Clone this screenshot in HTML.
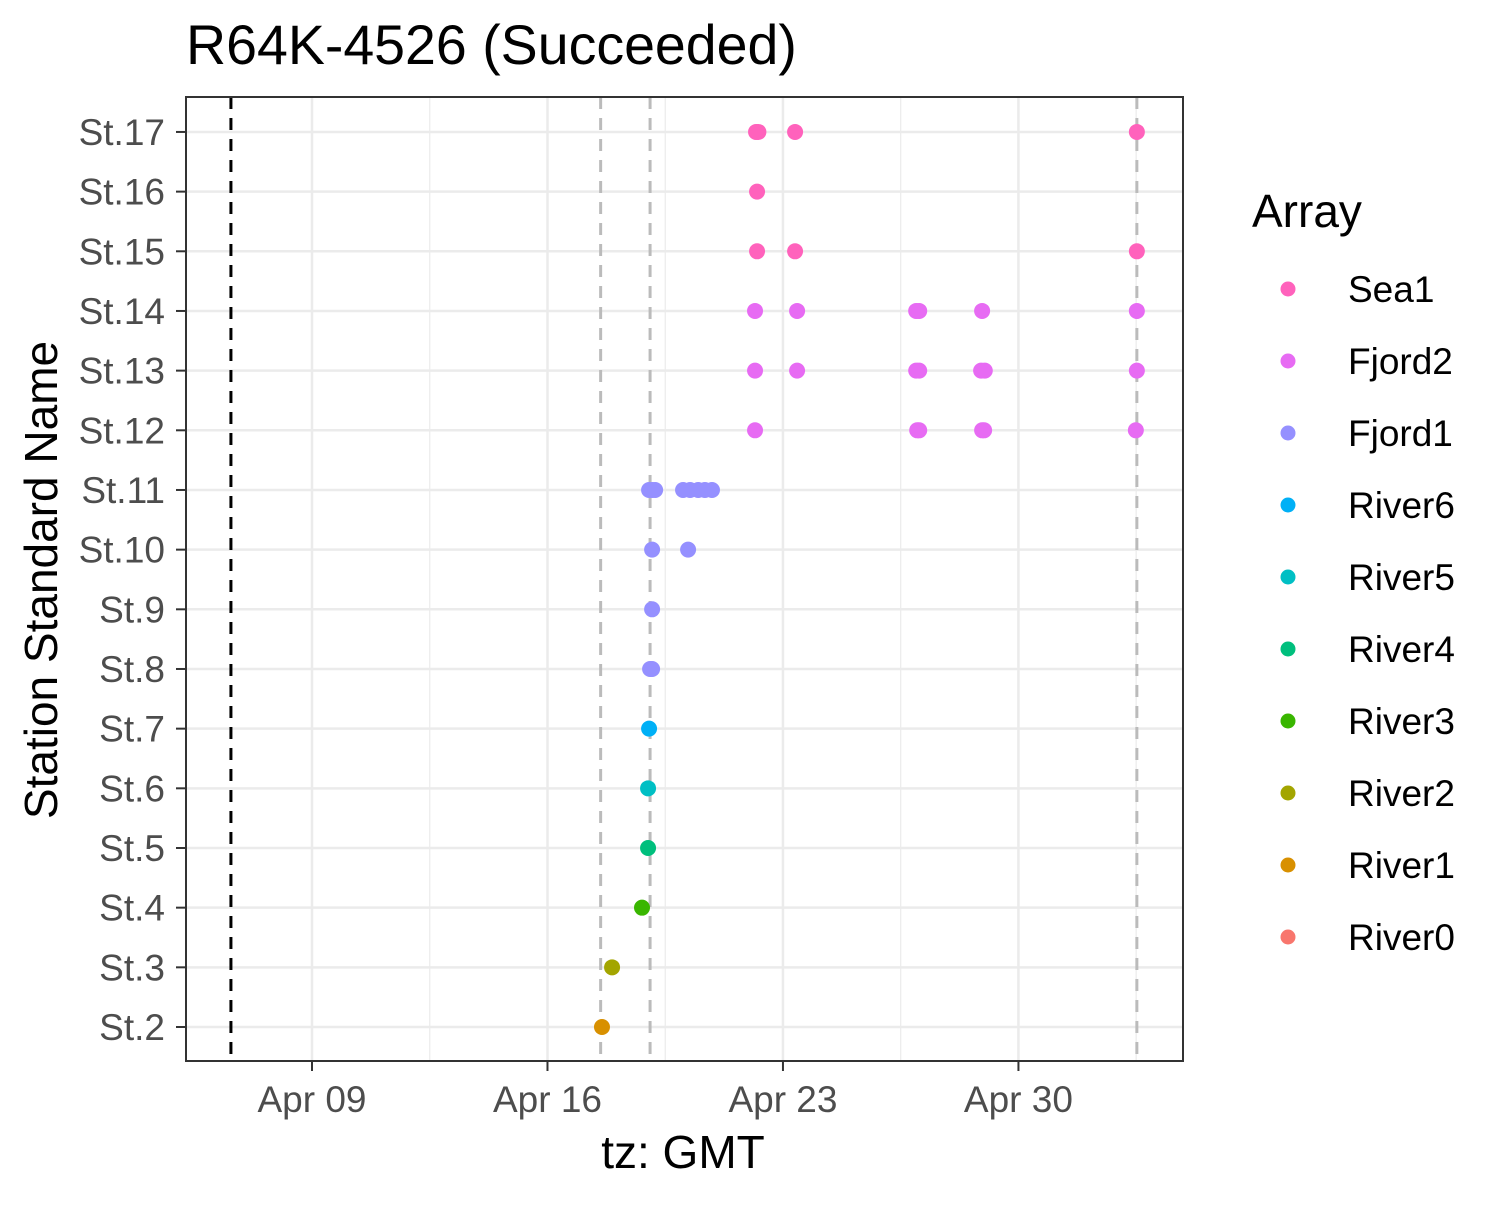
<!DOCTYPE html>
<html><head><meta charset="utf-8"><style>
body{margin:0;background:#fff;font-family:"Liberation Sans",Arial,sans-serif;}
</style></head><body>
<svg id="chart" width="1500" height="1200" xmlns="http://www.w3.org/2000/svg" font-family="Liberation Sans, Arial, sans-serif">
<rect width="1500" height="1200" fill="#fff"/>
<text x="186" y="64" font-size="55.5" fill="#000">R64K-4526 (Succeeded)</text>
<g id="grid"></g>
<g id="vlines"></g>
<g id="points"></g>
<rect x="186" y="97" width="997" height="964" fill="none" stroke="#333" stroke-width="2"/>
<g id="axes"></g>
<text x="683" y="1168" font-size="46" text-anchor="middle" fill="#000">tz: GMT</text>
<text transform="translate(57,580) rotate(-90)" font-size="46" text-anchor="middle" fill="#000">Station Standard Name</text>
<g id="legend"></g>
</svg>
<script>
const stations=["St.2","St.3","St.4","St.5","St.6","St.7","St.8","St.9","St.10","St.11","St.12","St.13","St.14","St.15","St.16","St.17"];
const arrays=["Sea1","Fjord2","Fjord1","River6","River5","River4","River3","River2","River1","River0"];
const colors=["#FF62BC","#E76BF3","#9590FF","#00B0F6","#00BFC4","#00BF7D","#39B600","#A3A500","#D89000","#F8766D"];
const stationArray=["River1","River2","River3","River4","River5","River6","Fjord1","Fjord1","Fjord1","Fjord1","Fjord2","Fjord2","Fjord2","Sea1","Sea1","Sea1"];
// detections: day offset relative to Apr 09 00:00
const detStation=["St.17","St.17","St.17","St.17","St.16","St.15","St.15","St.15",
"St.14","St.14","St.14","St.14","St.14","St.14",
"St.13","St.13","St.13","St.13","St.13","St.13","St.13",
"St.12","St.12","St.12","St.12","St.12","St.12",
"St.11","St.11","St.11","St.11","St.11","St.11","St.11","St.11",
"St.10","St.10","St.9","St.8","St.8","St.7","St.6","St.5","St.4","St.3","St.2"];
const detDay=[13.2,13.27,14.36,24.52,13.23,13.23,14.36,24.52,
13.17,14.42,17.96,18.05,19.92,24.52,
13.17,14.42,17.96,18.05,19.89,20.0,24.52,
13.17,17.99,18.05,19.92,19.98,24.49,
10.02,10.11,10.2,11.03,11.24,11.48,11.68,11.89,
10.11,11.18,10.11,10.05,10.11,10.02,9.99,9.99,9.81,8.92,8.62];
const xTicks=[0,7,14,21];
const xTickLabels=["Apr 09","Apr 16","Apr 23","Apr 30"];
const vlineDays=[-2.41,8.58,10.05,24.52];
const vlineColors=["#000","#bbb","#bbb","#bbb"];
const X0=312,PXD=33.64;
const x=d=>X0+d*PXD;
const y=s=>1027-stations.indexOf(s)*59.67;
const NS="http://www.w3.org/2000/svg";
function mk(t,a,p){const e=document.createElementNS(NS,t);for(const k in a)e.setAttribute(k,a[k]);p.appendChild(e);return e;}
const grid=document.getElementById('grid');
xTicks.forEach((d,i)=>{
 const g=mk('line',{x1:x(d),x2:x(d),y1:97,y2:1061,stroke:'#ebebeb','stroke-width':2.5},grid);
 
 const m=mk('line',{x1:x(d+3.5),x2:x(d+3.5),y1:97,y2:1061,stroke:'#ebebeb','stroke-width':1.2},grid);
 
});
stations.forEach(s=>{
 const g=mk('line',{x1:186,x2:1183,y1:y(s),y2:y(s),stroke:'#ebebeb','stroke-width':2.5},grid);
 
});
const vl=document.getElementById('vlines');
vlineDays.forEach((d,i)=>{
 const l=mk('line',{x1:x(d),x2:x(d),y1:97,y2:1061,stroke:vlineColors[i],'stroke-width':3,'stroke-dasharray':'12,9'},vl);
 
});
const pts=document.getElementById('points');
detDay.forEach((d,i)=>{
 const s=detStation[i];const a=stationArray[stations.indexOf(s)];
 const c=mk('circle',{cx:x(d),cy:y(s),r:8,fill:colors[arrays.indexOf(a)]},pts);
 
});
const ax=document.getElementById('axes');
stations.forEach(s=>{
 mk('line',{x1:176,x2:186,y1:y(s),y2:y(s),stroke:'#333','stroke-width':2},ax);
 const t=mk('text',{x:165,y:y(s)+13,'font-size':37,'text-anchor':'end',fill:'#4d4d4d'},ax);t.textContent=s;
 
});
xTicks.forEach((d,i)=>{
 mk('line',{x1:x(d),x2:x(d),y1:1061,y2:1071,stroke:'#333','stroke-width':2},ax);
 const t=mk('text',{x:x(d),y:1112,'font-size':37,'text-anchor':'middle',fill:'#4d4d4d'},ax);t.textContent=xTickLabels[i];
 
});
const lg=document.getElementById('legend');
const lt=mk('text',{x:1252,y:227,'font-size':46,fill:'#000'},lg);lt.textContent='Array';

arrays.forEach((a,i)=>{
 const cy=289+i*72;
 const c=mk('circle',{cx:1288,cy:cy,r:7.5,fill:colors[i]},lg);
 
 const t=mk('text',{x:1348,y:cy+13,'font-size':37,fill:'#000'},lg);t.textContent=a;
 
});
</script>
</body></html>
